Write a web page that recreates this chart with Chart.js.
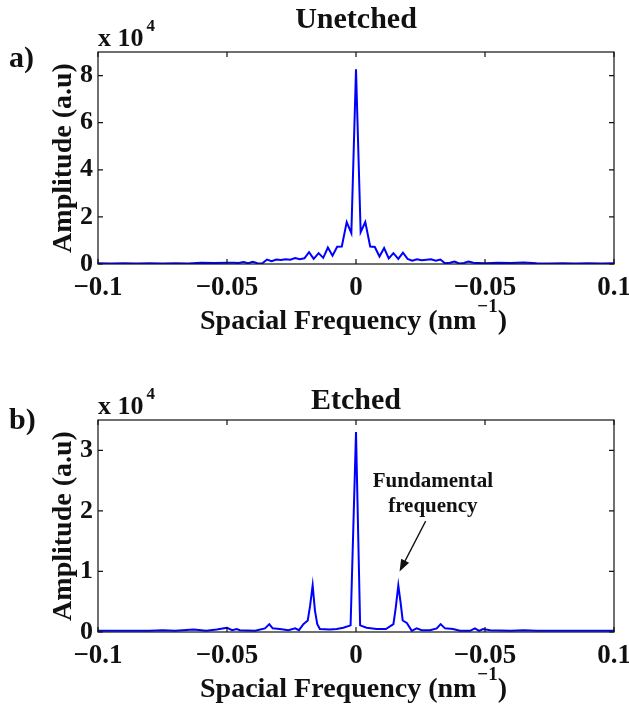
<!DOCTYPE html>
<html>
<head>
<meta charset="utf-8">
<script src="https://cdn.jsdelivr.net/npm/chart.js@4.4.0/dist/chart.umd.min.js"></script>
<style>
  body { margin: 0; background: #fff; }
  .panel { position: absolute; left: 0; width: 629px; height: 339px; }
</style>
</head>
<body>
<div class="panel" style="top:0px"><canvas id="chartA" width="629" height="339"></canvas></div>
<div class="panel" style="top:368px"><canvas id="chartB" width="629" height="339"></canvas></div>
<script>
// spectra, amplitude in units of 10^4
var freqA = [-0.1, -0.095, -0.09, -0.085, -0.08, -0.075, -0.07, -0.065, -0.06, -0.055, -0.05,
  -0.0473, -0.0455, -0.0436, -0.0418, -0.04, -0.0382, -0.0364, -0.0345, -0.0327, -0.0309,
  -0.0291, -0.0273, -0.0255, -0.0236, -0.0218, -0.02, -0.0182, -0.0164, -0.0145, -0.0127,
  -0.0109, -0.0091, -0.0073, -0.0055, -0.0036, -0.0018, 0,
  0.0018, 0.0036, 0.0055, 0.0073, 0.0091, 0.0109, 0.0127, 0.0145, 0.0164, 0.0182, 0.02,
  0.0218, 0.0236, 0.0255, 0.0273, 0.0291, 0.0309, 0.0327, 0.0345, 0.0364, 0.0382, 0.04,
  0.0418, 0.0436, 0.0455, 0.0473,
  0.05, 0.055, 0.06, 0.065, 0.07, 0.075, 0.08, 0.085, 0.09, 0.095, 0.1];
var ampUnetched = [0.03, 0.02, 0.03, 0.02, 0.03, 0.02, 0.03, 0.02, 0.05, 0.04, 0.05,
  0.05, 0.04, 0.08, 0.03, 0.09, 0.03, 0.02, 0.19, 0.12, 0.19,
  0.17, 0.20, 0.18, 0.25, 0.20, 0.24, 0.50, 0.22, 0.46, 0.26,
  0.70, 0.35, 0.73, 0.74, 1.78, 1.31, 8.27,
  1.35, 1.78, 0.74, 0.72, 0.32, 0.68, 0.24, 0.46, 0.22, 0.48, 0.22,
  0.14, 0.20, 0.16, 0.18, 0.20, 0.14, 0.19, 0.03, 0.05, 0.10, 0.02,
  0.04, 0.10, 0.05, 0.04,
  0.03, 0.05, 0.04, 0.06, 0.03, 0.02, 0.03, 0.02, 0.03, 0.02, 0.03];

var freqB = [-0.1, -0.09, -0.08, -0.075, -0.07, -0.063, -0.058, -0.054, -0.05, -0.048,
  -0.0462, -0.045, -0.0391, -0.0353, -0.0336, -0.0323, -0.0295, -0.0262, -0.0236, -0.0221,
  -0.0204, -0.0187, -0.0178, -0.0168, -0.0159, -0.015, -0.014, -0.0101, -0.0075, -0.0049,
  -0.0021, 0, 0.0016, 0.0041, 0.008, 0.0116, 0.0145, 0.0154, 0.0164, 0.0173,
  0.0181, 0.0197, 0.0216, 0.0235, 0.0255, 0.0287, 0.0313, 0.0328, 0.0345, 0.0376,
  0.0403, 0.0442, 0.0461, 0.0477, 0.0492, 0.052, 0.06, 0.065, 0.07, 0.08, 0.09, 0.1];
var ampEtched = [0.02, 0.02, 0.02, 0.03, 0.02, 0.04, 0.02, 0.04, 0.07, 0.03,
  0.05, 0.03, 0.02, 0.06, 0.13, 0.06, 0.05, 0.03, 0.06, 0.03,
  0.13, 0.19, 0.43, 0.77, 0.35, 0.13, 0.05, 0.04, 0.05, 0.07,
  0.11, 3.3, 0.11, 0.07, 0.05, 0.05, 0.13, 0.40, 0.77, 0.48,
  0.19, 0.15, 0.02, 0.06, 0.03, 0.03, 0.06, 0.13, 0.06, 0.05,
  0.02, 0.02, 0.06, 0.02, 0.05, 0.03, 0.02, 0.03, 0.02, 0.02, 0.02, 0.02];

var xTickValues = [-0.1, -0.05, 0, 0.05, 0.1];
var xTickLabels = ['\u22120.1', '\u22120.05', '0', '\u22120.05', '0.1'];
var yTicksA = [0, 2, 4, 6, 8];
var yTicksB = [0, 1, 2, 3];

var SERIF = '"Liberation Serif", "Times New Roman", serif';

function pairs(xs, ys) {
  return xs.map(function (x, i) { return { x: x, y: ys[i] }; });
}

// box, inward ticks and the text around each panel
var frame = {
  id: 'frame',
  afterDraw: function (chart, args, opts) {
    var c = chart.ctx, a = chart.chartArea;
    var xs = chart.scales.x, ys = chart.scales.y;
    c.save();
    c.strokeStyle = '#111';
    c.lineWidth = 1.2;
    c.strokeRect(a.left, a.top, a.right - a.left, a.bottom - a.top);
    c.beginPath();
    xs.ticks.forEach(function (t) {
      var px = xs.getPixelForValue(t.value);
      c.moveTo(px, a.bottom); c.lineTo(px, a.bottom - 5);
      c.moveTo(px, a.top); c.lineTo(px, a.top + 5);
    });
    ys.ticks.forEach(function (t) {
      var py = ys.getPixelForValue(t.value);
      c.moveTo(a.left, py); c.lineTo(a.left + 5, py);
      c.moveTo(a.right, py); c.lineTo(a.right - 5, py);
    });
    c.stroke();

    c.fillStyle = '#111';
    c.textBaseline = 'alphabetic';
    var cx = (a.left + a.right) / 2;

    c.font = 'bold 30px ' + SERIF;
    c.textAlign = 'center';
    c.fillText(opts.title, cx, opts.titleY);
    c.textAlign = 'left';
    c.fillText(opts.panel, 9, opts.panelY);

    // exponent above the y axis
    c.font = 'bold 26px ' + SERIF;
    c.fillText('x 10', a.left, 45.5);
    var w10 = c.measureText('x 10').width;
    c.font = 'bold 17px ' + SERIF;
    c.fillText('4', a.left + w10 + 3, 31);

    // x axis title with superscript
    var main = 'Spacial Frequency (nm', sup = '\u22121', close = ')';
    c.font = 'bold 28px ' + SERIF;
    var wMain = c.measureText(main).width, wClose = c.measureText(close).width;
    c.font = 'bold 19px ' + SERIF;
    var wSup = c.measureText(sup).width;
    var x0 = 353 - (wMain + wSup + wClose) / 2;
    c.font = 'bold 28px ' + SERIF;
    c.fillText(main, x0, 329);
    c.fillText(close, x0 + wMain + wSup + 1, 329);
    c.font = 'bold 19px ' + SERIF;
    c.fillText(sup, x0 + wMain + 1, 312);

    // y axis title
    c.save();
    c.translate(71, (a.top + a.bottom) / 2);
    c.rotate(-Math.PI / 2);
    c.textAlign = 'center';
    c.font = 'bold 28px ' + SERIF;
    c.fillText('Amplitude (a.u)', 0, 0);
    c.restore();

    if (opts.note) {
      var n = opts.note;
      c.font = 'bold 21px ' + SERIF;
      c.textAlign = 'center';
      var tx = xs.getPixelForValue(n.textX);
      c.fillText(n.lines[0], tx, ys.getPixelForValue(n.lineY[0]));
      c.fillText(n.lines[1], tx, ys.getPixelForValue(n.lineY[1]));
      var x1 = xs.getPixelForValue(n.from[0]), y1 = ys.getPixelForValue(n.from[1]);
      var x2 = xs.getPixelForValue(n.to[0]), y2 = ys.getPixelForValue(n.to[1]);
      var ang = Math.atan2(y2 - y1, x2 - x1);
      c.lineWidth = 1.3;
      c.beginPath();
      c.moveTo(x1, y1);
      c.lineTo(x2 - 8 * Math.cos(ang), y2 - 8 * Math.sin(ang));
      c.stroke();
      c.beginPath();
      c.moveTo(x2, y2);
      c.lineTo(x2 - 12 * Math.cos(ang) + 4.5 * Math.sin(ang), y2 - 12 * Math.sin(ang) - 4.5 * Math.cos(ang));
      c.lineTo(x2 - 12 * Math.cos(ang) - 4.5 * Math.sin(ang), y2 - 12 * Math.sin(ang) + 4.5 * Math.cos(ang));
      c.closePath();
      c.fill();
    }
    c.restore();
  }
};

function makeChart(id, xs, ys, yMax, yTicks, frameOpts) {
  return new Chart(document.getElementById(id), {
    type: 'line',
    data: {
      datasets: [{
        data: pairs(xs, ys),
        borderColor: '#0000ff',
        borderWidth: 2,
        pointRadius: 0,
        tension: 0,
        fill: false
      }]
    },
    options: {
      responsive: false,
      animation: false,
      layout: { padding: { top: 52, right: 15, left: 0, bottom: 0 } },
      plugins: { legend: { display: false }, tooltip: { enabled: false }, frame: frameOpts },
      scales: {
        x: {
          type: 'linear',
          min: -0.1, max: 0.1,
          grid: { display: false, drawTicks: false },
          border: { display: false },
          afterBuildTicks: function (s) {
            s.ticks = xTickValues.map(function (v) { return { value: v }; });
          },
          afterFit: function (s) {
            s.height = 75;
            s.paddingLeft = 0;
            s.paddingRight = 0;
          },
          ticks: {
            padding: 8,
            maxRotation: 0,
            color: '#111',
            font: { family: SERIF, size: 27, weight: 'bold' },
            callback: function (v, i) { return xTickLabels[i]; }
          }
        },
        y: {
          min: 0, max: yMax,
          grid: { display: false, drawTicks: false },
          border: { display: false },
          afterBuildTicks: function (s) {
            s.ticks = yTicks.map(function (v) { return { value: v }; });
          },
          afterFit: function (s) {
            s.width = 98;
            s.paddingTop = 0;
            s.paddingBottom = 0;
          },
          ticks: {
            padding: 5,
            color: '#111',
            font: { family: SERIF, size: 26, weight: 'bold' }
          }
        }
      }
    },
    plugins: [frame]
  });
}

makeChart('chartA', freqA, ampUnetched, 9, yTicksA, {
  title: 'Unetched', titleY: 28, panel: 'a)', panelY: 67
});

makeChart('chartB', freqB, ampEtched, 3.5, yTicksB, {
  title: 'Etched', titleY: 41, panel: 'b)', panelY: 61,
  note: {
    lines: ['Fundamental', 'frequency'],
    textX: 0.0298, lineY: [2.39, 1.98],
    from: [0.027, 1.83], to: [0.0169, 1.0]
  }
});
</script>
</body>
</html>
